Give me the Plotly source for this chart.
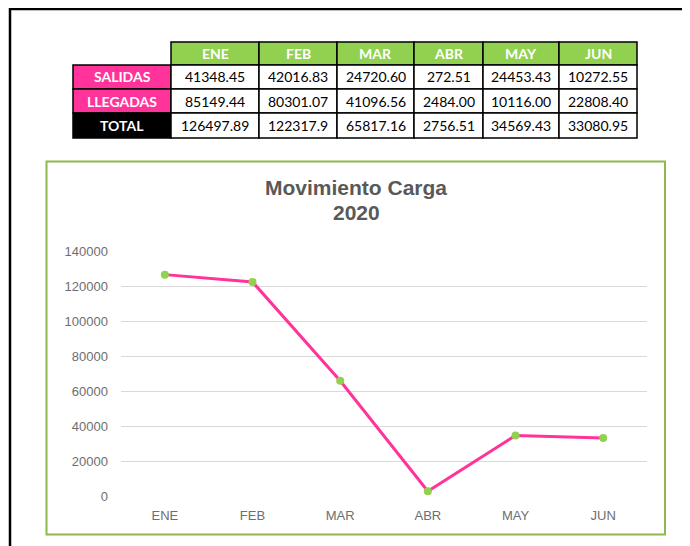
import plotly.graph_objects as go

# ---------------- data ----------------
months = ["ENE", "FEB", "MAR", "ABR", "MAY", "JUN"]
row_labels = ["SALIDAS", "LLEGADAS", "TOTAL"]
salidas_text = ["41348.45", "42016.83", "24720.60", "272.51", "24453.43", "10272.55"]
llegadas_text = ["85149.44", "80301.07", "41096.56", "2484.00", "10116.00", "22808.40"]
total_text = ["126497.89", "122317.9", "65817.16", "2756.51", "34569.43", "33080.95"]
total = [126497.89, 122317.9, 65817.16, 2756.51, 34569.43, 33080.95]
y_ticks = [0, 20000, 40000, 60000, 80000, 100000, 120000, 140000]
title_lines = ["Movimiento Carga", "2020"]

# ---------------- layout geometry (window pixels) ----------------
OFF = 8                      # default page body margin
WIN_W, WIN_H = 690, 546
W, H = WIN_W - OFF, WIN_H - OFF
PL, PR, PT, PB = 121, 647, 251, 496  # plot area in window pixels


def px(x):
    return (x - PL) / (PR - PL)


def py(y):
    return (PB - y) / (PB - PT)


GREEN = "#92D050"
PINK = "#FF3399"
LINE_PINK = "#FF3399"
BORDER_GREEN = "#8DB84E"
GRAY_TXT = "#595959"
AX_TXT = "#6E6E6E"

fig = go.Figure()
fig.add_trace(go.Scatter(
    x=months, y=total, mode="lines+markers",
    line=dict(color=LINE_PINK, width=3),
    marker=dict(color=GREEN, size=8),
    cliponaxis=False, hoverinfo="x+y", showlegend=False,
))

shapes = []
annotations = []

# sheet border lines
shapes.append(dict(type="line", xref="paper", yref="paper",
                   x0=px(10), x1=px(700), y0=py(9), y1=py(9),
                   line=dict(color="black", width=2.5)))
shapes.append(dict(type="line", xref="paper", yref="paper",
                   x0=px(10), x1=px(10), y0=py(8), y1=py(560),
                   line=dict(color="black", width=2.5)))

# chart frame
shapes.append(dict(type="rect", xref="paper", yref="paper",
                   x0=px(46.5), x1=px(665), y0=py(161.5), y1=py(534.5),
                   line=dict(color=BORDER_GREEN, width=2), fillcolor="rgba(0,0,0,0)",
                   layer="below"))

# ---------------- table ----------------
col_edges = [73, 171, 259, 337, 414, 483, 559, 637]
row_edges = [42, 65, 89, 113, 138]
row_fills = [PINK, PINK, "black"]
rows_text = [salidas_text, llegadas_text, total_text]
FONT_T = "Lato, 'Liberation Sans', Arial, sans-serif"


def cell(x0, x1, y0, y1, fill, text, color, bold):
    shapes.append(dict(type="rect", xref="paper", yref="paper",
                       x0=px(x0), x1=px(x1), y0=py(y0), y1=py(y1),
                       fillcolor=fill, line=dict(color="black", width=1.5)))
    annotations.append(dict(xref="paper", yref="paper",
                            x=px((x0 + x1) / 2), y=py((y0 + y1) / 2),
                            text=f"<b>{text}</b>" if bold else text,
                            showarrow=False, xanchor="center", yanchor="middle",
                            font=dict(family=FONT_T, size=14, color=color)))


for j, m in enumerate(months):
    cell(col_edges[j + 1], col_edges[j + 2], row_edges[0], row_edges[1], GREEN, m, "white", True)

for i, lab in enumerate(row_labels):
    y0, y1 = row_edges[i + 1], row_edges[i + 2]
    cell(col_edges[0], col_edges[1], y0, y1, row_fills[i], lab, "white", True)
    for j in range(len(months)):
        cell(col_edges[j + 1], col_edges[j + 2], y0, y1, "white", rows_text[i][j], "black", False)

# chart title (two lines)
for line_txt, yc in zip(title_lines, [187, 213]):
    annotations.append(dict(xref="paper", yref="paper", x=px(356), y=py(yc),
                            text=f"<b>{line_txt}</b>", showarrow=False,
                            xanchor="center", yanchor="middle",
                            font=dict(family="Arial, 'Liberation Sans', sans-serif",
                                      size=21, color=GRAY_TXT)))

fig.update_layout(
    width=W, height=H,
    margin=dict(l=PL - OFF, r=WIN_W - PR, t=PT - OFF, b=WIN_H - PB, pad=0),
    paper_bgcolor="white", plot_bgcolor="white",
    shapes=shapes, annotations=annotations,
    xaxis=dict(type="category", range=[-0.5, 5.5], showgrid=False, showline=False,
               zeroline=False, ticks="", ticklabelstandoff=10,
               tickfont=dict(family="Arial, 'Liberation Sans', sans-serif", size=13, color=AX_TXT),
               fixedrange=True),
    yaxis=dict(range=[0, 140000], tickvals=y_ticks, ticktext=[str(v) for v in y_ticks],
               showgrid=True, gridcolor="#D9D9D9", gridwidth=1, zeroline=False,
               showline=False, ticks="", ticklabelstandoff=12,
               tickfont=dict(family="Arial, 'Liberation Sans', sans-serif", size=13, color=AX_TXT),
               fixedrange=True),
    font=dict(family="Arial, 'Liberation Sans', sans-serif"),
)

fig.write_html("out.html")
